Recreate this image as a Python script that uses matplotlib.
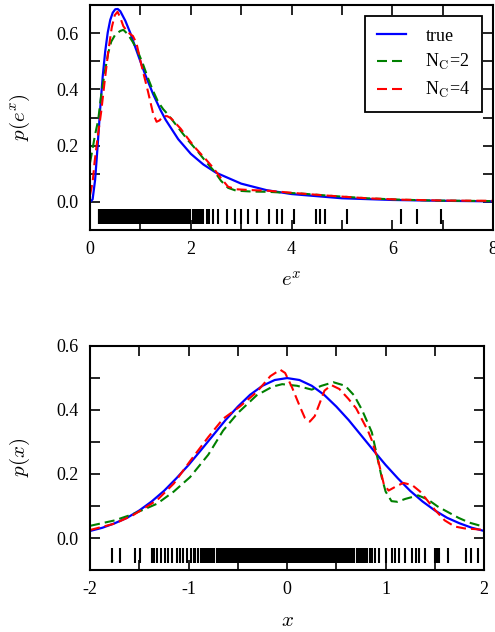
import numpy as np
import matplotlib
matplotlib.use('Agg')
import matplotlib.pyplot as plt
from matplotlib.ticker import MultipleLocator

plt.rcParams['font.family'] = ['Liberation Serif', 'DejaVu Serif']
plt.rcParams['mathtext.fontset'] = 'cm'

# samples shown as rug marks (x space); top panel shows exp of these
samples = np.array([
    -1.78, -1.70, -1.54, -1.49, -1.37, -1.35, -1.32, -1.28, -1.24, -1.21,
    -1.17, -1.12, -1.09, -1.06, -1.02,
    -0.98, -0.95, -0.93, -0.90, -0.87, -0.85, -0.83, -0.81,
    -0.79, -0.77, -0.76, -0.74, -0.71, -0.69, -0.67, -0.65, -0.63, -0.61,
    -0.59, -0.58, -0.56, -0.54, -0.52, -0.50, -0.48, -0.47, -0.45, -0.43,
    -0.42, -0.40,
    -0.39, -0.37, -0.36, -0.34, -0.33, -0.31, -0.30, -0.28, -0.27, -0.25,
    -0.24, -0.23, -0.21, -0.20,
    -0.19, -0.18, -0.16, -0.15, -0.14, -0.12, -0.11, -0.10, -0.08, -0.07,
    -0.06, -0.05, -0.03, -0.02, -0.01,
    0.00, 0.02, 0.03, 0.04, 0.06, 0.07, 0.08, 0.09, 0.11, 0.12, 0.14, 0.15,
    0.16, 0.18, 0.19,
    0.21, 0.22, 0.24, 0.25, 0.27, 0.28, 0.29, 0.31, 0.32, 0.34, 0.35, 0.37,
    0.38, 0.39,
    0.41, 0.43, 0.44, 0.46, 0.47, 0.49, 0.51, 0.52, 0.54, 0.56, 0.57, 0.59,
    0.61, 0.63, 0.65, 0.67, 0.68, 0.71, 0.73, 0.75, 0.77, 0.79,
    0.81, 0.84, 0.86,
    0.89, 0.93, 1.00, 1.06, 1.10, 1.14, 1.20, 1.27, 1.31, 1.34, 1.40, 1.50,
    1.52, 1.54, 1.63, 1.82, 1.87, 1.94])

# top panel curves: p(e^x) vs e^x
ex_true = [0, 0.05, 0.1, 0.15, 0.2, 0.25, 0.3, 0.35, 0.4, 0.45, 0.5, 0.55, 0.6,
           0.7, 0.8, 0.9, 1.0, 1.1, 1.25, 1.4, 1.5, 1.75, 2.0, 2.25, 2.5, 3.0,
           3.5, 4.0, 5.0, 6.0, 7.0, 8.0]
pex_true = [0, 0.009, 0.079, 0.200, 0.330, 0.445, 0.535, 0.602, 0.647, 0.673,
            0.685, 0.686, 0.678, 0.644, 0.600, 0.549, 0.499, 0.450, 0.384,
            0.326, 0.292, 0.223, 0.171, 0.133, 0.104, 0.065, 0.042, 0.028,
            0.013, 0.007, 0.004, 0.002]

ex_nc2 = [0.0, 0.05, 0.1, 0.16, 0.22, 0.29, 0.36, 0.42, 0.5, 0.6, 0.66, 0.75,
          0.85, 0.95, 1.05, 1.15, 1.25, 1.35, 1.45, 1.55, 1.68, 1.81, 1.95,
          2.14, 2.3, 2.47, 2.6, 2.74, 2.9, 3.2, 3.52, 4.17, 4.83, 5.5, 6.16,
          6.8, 8.0]
pex_nc2 = [0.14, 0.19, 0.24, 0.29, 0.38, 0.46, 0.53, 0.57, 0.595, 0.608, 0.612,
           0.596, 0.568, 0.534, 0.49, 0.44, 0.395, 0.356, 0.33, 0.31, 0.28,
           0.25, 0.218, 0.179, 0.143, 0.108, 0.075, 0.05, 0.04, 0.037, 0.036,
           0.03, 0.021, 0.013, 0.008, 0.005, 0.003]

ex_nc4 = [0.0, 0.05, 0.09, 0.15, 0.22, 0.29, 0.36, 0.43, 0.49, 0.545, 0.6,
          0.66, 0.75, 0.85, 0.92, 1.02, 1.15, 1.25, 1.32, 1.38, 1.45, 1.53,
          1.61, 1.8, 1.94, 2.1, 2.28, 2.45, 2.6, 2.74, 2.9, 3.2, 3.52, 4.17,
          4.83, 5.5, 6.2, 7.0, 8.0]
pex_nc4 = [0.025, 0.07, 0.143, 0.23, 0.32, 0.43, 0.534, 0.62, 0.664, 0.676,
           0.655, 0.625, 0.603, 0.59, 0.565, 0.486, 0.392, 0.315, 0.285, 0.29,
           0.305, 0.305, 0.297, 0.26, 0.226, 0.19, 0.155, 0.12, 0.084, 0.054,
           0.045, 0.042, 0.04, 0.03, 0.021, 0.013, 0.008, 0.005, 0.004]

# bottom panel curves: p(x) vs x
x_true = [-2.0, -1.875, -1.75, -1.625, -1.5, -1.375, -1.25, -1.125, -1.0,
          -0.875, -0.75, -0.625, -0.5, -0.375, -0.25, -0.125, 0.0, 0.125, 0.25,
          0.375, 0.5, 0.625, 0.75, 0.875, 1.0, 1.125, 1.25, 1.375, 1.5, 1.625,
          1.75, 1.875, 2.0]
px_true = [0.022, 0.032, 0.046, 0.063, 0.086, 0.114, 0.147, 0.186, 0.228,
           0.274, 0.321, 0.368, 0.410, 0.447, 0.475, 0.493, 0.499, 0.493,
           0.475, 0.447, 0.410, 0.368, 0.321, 0.274, 0.228, 0.186, 0.147,
           0.114, 0.086, 0.063, 0.046, 0.032, 0.022]

x_nc2 = [-2.0, -1.75, -1.56, -1.32, -1.15, -0.985, -0.8, -0.65, -0.5, -0.31,
         -0.15, -0.05, 0.1, 0.25, 0.35, 0.47, 0.59, 0.68, 0.76, 0.86, 0.91,
         0.96, 1.0, 1.06, 1.12, 1.2, 1.33, 1.43, 1.53, 1.65, 1.74, 1.85, 2.0]
px_nc2 = [0.038, 0.055, 0.075, 0.107, 0.145, 0.19, 0.26, 0.335, 0.39, 0.445,
          0.472, 0.48, 0.475, 0.463, 0.475, 0.486, 0.475, 0.445, 0.40, 0.33,
          0.26, 0.19, 0.145, 0.115, 0.113, 0.122, 0.133, 0.12, 0.098, 0.078,
          0.063, 0.048, 0.035]

x_nc4 = [-2.0, -1.75, -1.56, -1.32, -1.15, -0.985, -0.8, -0.65, -0.48, -0.31,
         -0.17, -0.07, -0.02, 0.05, 0.13, 0.18, 0.23, 0.28, 0.33, 0.38, 0.45,
         0.53, 0.62, 0.70, 0.76, 0.82, 0.86, 0.93, 0.98, 1.03, 1.1, 1.18,
         1.27, 1.35, 1.43, 1.5, 1.6, 1.7, 1.8, 1.9, 2.0]
px_nc4 = [0.025, 0.045, 0.072, 0.118, 0.17, 0.24, 0.315, 0.372, 0.41, 0.455,
          0.505, 0.525, 0.515, 0.47, 0.41, 0.375, 0.363, 0.38, 0.42, 0.46,
          0.477, 0.465, 0.435, 0.405, 0.37, 0.335, 0.305, 0.235, 0.17, 0.148,
          0.16, 0.172, 0.165, 0.145, 0.115, 0.088, 0.055, 0.036, 0.03, 0.028,
          0.025]

DASH = (0, (4.8, 2.4))


def style_axes(ax):
    for s in ax.spines.values():
        s.set_linewidth(1.5)
    ax.tick_params(which='both', direction='in', top=True, right=True,
                   length=7, width=1.2, labelsize=13)
    ax.tick_params(which='major', pad=8)


fig = plt.figure(figsize=(4.95, 6.32), dpi=100)

# top panel
ax1 = fig.add_axes([0.182, 0.636, 0.814, 0.356])
ax1.plot(ex_true, pex_true, '-b', lw=1.6, label='true')
ax1.plot(ex_nc2, pex_nc2, color='g', ls=DASH, lw=1.5, label=r'N$_\mathrm{C}$=2')
ax1.plot(ex_nc4, pex_nc4, color='r', ls=DASH, lw=1.5, label=r'N$_\mathrm{C}$=4')
ax1.vlines(np.exp(samples), -0.078, -0.025, color='k', lw=1.5)
ax1.set_xlim(0, 8)
ax1.set_ylim(-0.1, 0.7)
ax1.xaxis.set_major_locator(MultipleLocator(2))
ax1.xaxis.set_minor_locator(MultipleLocator(1))
ax1.yaxis.set_minor_locator(MultipleLocator(0.1))
ax1.set_yticks([0.0, 0.2, 0.4, 0.6])
style_axes(ax1)
ax1.set_xlabel('$e^x$', fontsize=15, labelpad=10)
ax1.set_ylabel('$p(e^x)$', fontsize=15, labelpad=18)
leg = ax1.legend(loc='upper right', fontsize=13, handlelength=1.6,
                 fancybox=False, edgecolor='k', framealpha=1,
                 borderpad=0.65, labelspacing=0.42, handletextpad=1.1,
                 borderaxespad=0.6)
leg.get_frame().set_linewidth(1.3)

# bottom panel
ax2 = fig.add_axes([0.182, 0.098, 0.796, 0.355])
ax2.plot(x_true, px_true, '-b', lw=1.6)
ax2.plot(x_nc2, px_nc2, color='g', ls=DASH, lw=1.5)
ax2.plot(x_nc4, px_nc4, color='r', ls=DASH, lw=1.5)
ax2.vlines(samples, -0.078, -0.03, color='k', lw=1.5)
ax2.set_xlim(-2, 2)
ax2.set_ylim(-0.1, 0.6)
ax2.set_xticks([-2, -1, 0, 1, 2])
ax2.set_xticklabels(['-2', '-1', '0', '1', '2'])
ax2.xaxis.set_minor_locator(MultipleLocator(0.5))
ax2.yaxis.set_minor_locator(MultipleLocator(0.1))
ax2.set_yticks([0.0, 0.2, 0.4, 0.6])
style_axes(ax2)
ax2.set_xlabel('$x$', fontsize=15, labelpad=10)
ax2.set_ylabel('$p(x)$', fontsize=15, labelpad=18)

fig.savefig('out.png', dpi=100)
